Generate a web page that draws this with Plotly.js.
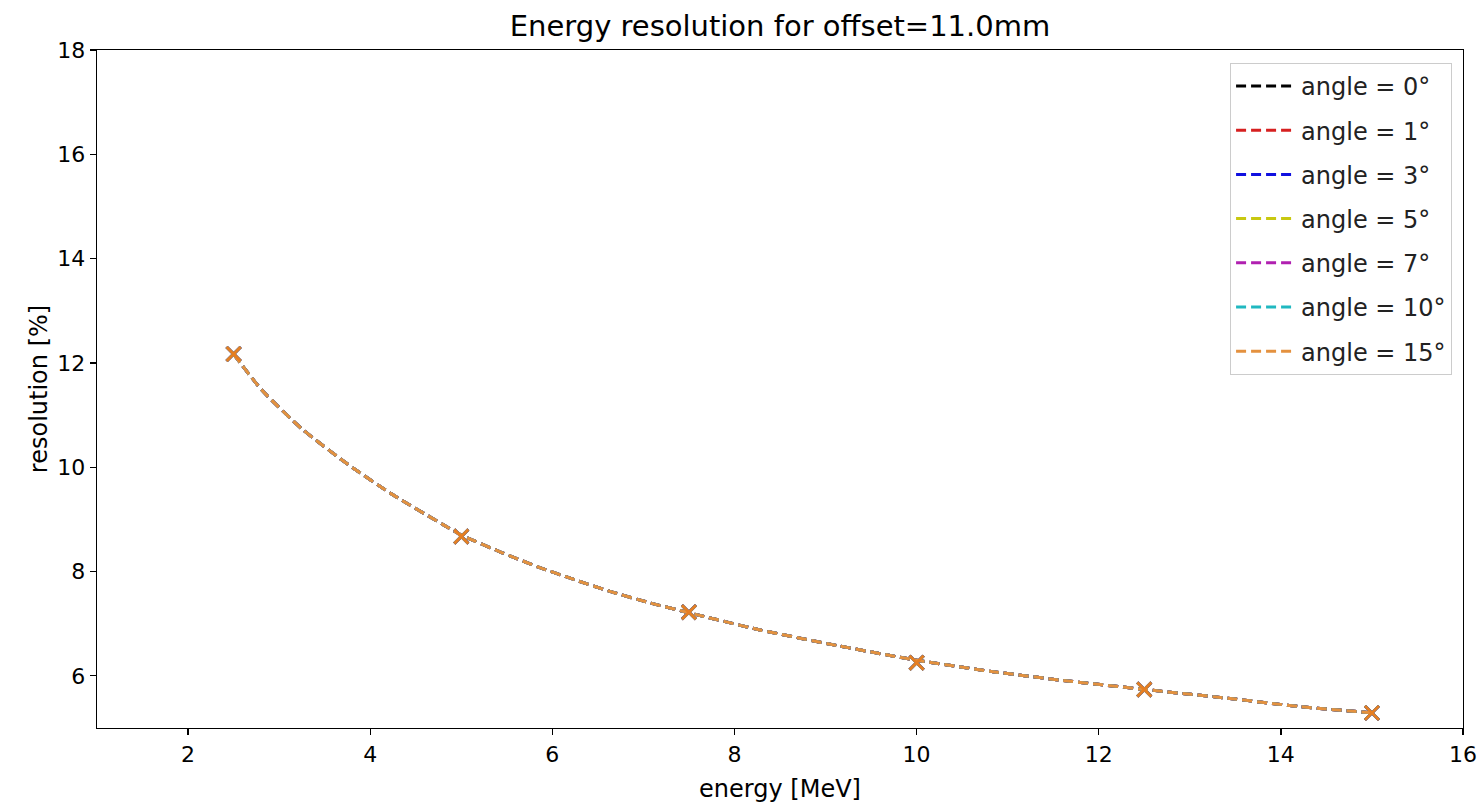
<!DOCTYPE html>
<html>
<head>
<meta charset="utf-8">
<script src="https://cdn.plot.ly/plotly-3.0.1.min.js"></script>
<style>html,body{margin:0;padding:0;background:#fff;}#chart{width:1482px;height:806px;}</style>
</head>
<body>
<div id="chart"></div>
<script>
// measured points
const energy = [2.5, 5.0, 7.5, 10.0, 12.5, 15.0];
const resolution = [12.17, 8.67, 7.22, 6.25, 5.74, 5.29];
// fitted curve
const fitEnergy = [2.5, 2.81, 3.26, 3.76, 4.25, 4.80, 5.0, 5.45, 5.84, 6.25, 6.65, 7.07, 7.5, 8.28, 9.13, 10.0, 10.84, 11.57, 12.5, 13.47, 14.21, 15.0];
const fitResolution = [12.17, 11.48, 10.72, 10.05, 9.47, 8.90, 8.70, 8.36, 8.09, 7.84, 7.61, 7.40, 7.21, 6.88, 6.58, 6.30, 6.08, 5.92, 5.74, 5.56, 5.41, 5.29];
const angles = [0, 1, 3, 5, 7, 10, 15];
const lineColors = ['#000000', '#d62020', '#1010e0', '#c8c810', '#b020b0', '#20b8c0', '#e4913f'];
const markerColors = ['#000000', '#d62020', '#1010e0', '#c8c810', '#b020b0', '#20b8c0', '#e67e22'];

const traces = [];
angles.forEach((a, i) => {
  traces.push({
    x: fitEnergy, y: fitResolution, type: 'scatter', mode: 'lines',
    name: 'angle = ' + a + '°', legendgroup: 'g' + i,
    line: {color: lineColors[i], width: 3, dash: '10px,5px', shape: 'spline', smoothing: 0.6},
    hoverinfo: 'skip'
  });
  traces.push({
    x: energy, y: resolution, type: 'scatter', mode: 'markers',
    showlegend: false, legendgroup: 'g' + i,
    marker: {symbol: 'x-thin', size: 14, line: {color: markerColors[i], width: 2.8}, color: markerColors[i]}
  });
});

const tickFont = {family: 'DejaVu Sans, sans-serif', size: 22, color: '#000'};
const labelFont = {family: 'DejaVu Sans, sans-serif', size: 24, color: '#000'};
const layout = {
  width: 1482, height: 806,
  margin: {l: 97, r: 19, t: 50, b: 78},
  paper_bgcolor: '#fff', plot_bgcolor: '#fff',
  font: {family: 'DejaVu Sans, sans-serif', size: 22, color: '#000'},
  title: {text: 'Energy resolution for offset=11.0mm', xref: 'paper', x: 0.5, xanchor: 'center', y: 0.968, yanchor: 'middle',
          font: {family: 'DejaVu Sans, sans-serif', size: 29, color: '#000'}},
  xaxis: {
    range: [1, 16], tickmode: 'linear', tick0: 2, dtick: 2,
    showgrid: false, zeroline: false, showline: true, mirror: true, linecolor: '#000', linewidth: 1.3,
    ticks: 'outside', ticklen: 6, tickwidth: 1.3, tickcolor: '#000', tickfont: tickFont,
    title: {text: 'energy [MeV]', font: labelFont, standoff: 14}
  },
  yaxis: {
    range: [5, 18], tickmode: 'linear', tick0: 6, dtick: 2,
    showgrid: false, zeroline: false, showline: true, mirror: true, linecolor: '#000', linewidth: 1.3,
    ticks: 'outside', ticklen: 6, tickwidth: 1.3, tickcolor: '#000', tickfont: tickFont,
    title: {text: 'resolution [%]', font: labelFont, standoff: 3}
  },
  legend: {
    x: 0.992, xanchor: 'right', y: 0.981, yanchor: 'top',
    bgcolor: 'rgba(255,255,255,0.8)', bordercolor: '#cccccc', borderwidth: 1,
    font: {family: 'DejaVu Sans, sans-serif', size: 24, color: '#222'},
    traceorder: 'grouped', tracegroupgap: 10, itemwidth: 60
  },
  showlegend: true
};

Plotly.newPlot('chart', traces, layout, {displayModeBar: false, staticPlot: true});
</script>
</body>
</html>
